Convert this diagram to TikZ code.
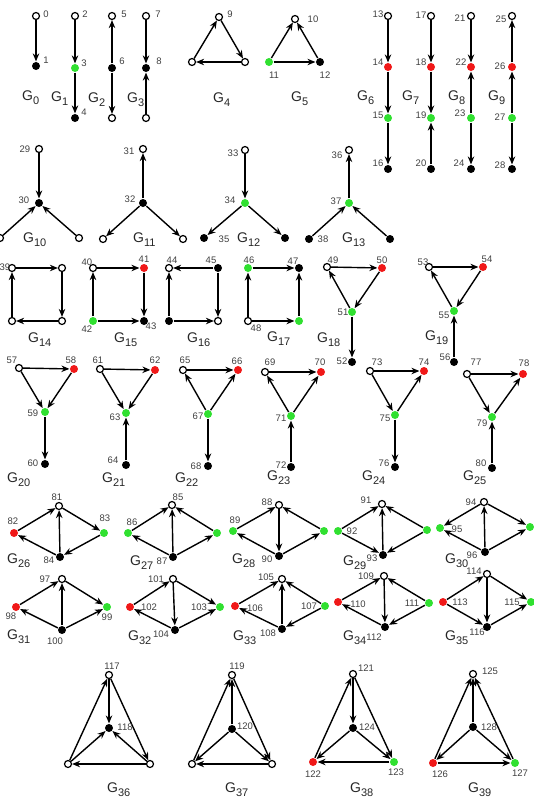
\documentclass[tikz,border=0pt]{standalone}
\usepackage{fontspec}
\setmainfont{Liberation Sans}
\usetikzlibrary{arrows.meta}
\definecolor{vred}{HTML}{F01818}
\definecolor{vgreen}{HTML}{30E030}
\tikzset{
  vtx/.style={circle, inner sep=0pt, line width=1.2pt},
  vo/.style={vtx, draw=black, fill=white, minimum size=7pt},
  vk/.style={vtx, fill=black, minimum size=8pt},
  vr/.style={vtx, fill=vred, minimum size=8pt},
  vg/.style={vtx, fill=vgreen, minimum size=8pt},
  lab/.style={inner sep=0pt, text=black!75, font=\fontsize{9.5}{9.5}\selectfont},
  glab/.style={inner sep=0pt, text=black!85, font=\fontsize{14}{14}\selectfont, anchor=base west},
  arr/.style={line width=1.4pt, -{Stealth[length=8pt,width=6.5pt]}}
}
\newcommand\myV[4]{\node[#2] (n#1) at (#3,#4) {};}
\newcommand\myL[3]{\node[lab] (t#1) at (#2,#3) {#1};}
\newcommand\myG[3]{\node[glab] (g#1) at ({#2-5},{#3+5}) {G\raisebox{-4.5pt}{\fontsize{11}{11}\selectfont #1}};}
\newcommand\myE[2]{\draw[arr] (n#1) -- (n#2);}
\begin{document}
\begin{tikzpicture}[x=1pt,y=-1pt]
\useasboundingbox (0,0) rectangle (534,800);
% G0
\myV{0}{vo}{36}{16}\myV{1}{vk}{36}{66}
\myE{0}{1}
\myL{0}{46}{14}\myL{1}{46}{60}\myG{0}{27}{95}
% G1
\myV{2}{vo}{75}{16}\myV{3}{vg}{75}{68}\myV{4}{vk}{75}{118}
\myE{2}{3}\myE{3}{4}
\myL{2}{85}{14}\myL{3}{84}{63}\myL{4}{84}{112}\myG{1}{56}{96}
% G2
\myV{5}{vo}{112}{16}\myV{6}{vk}{112}{68}\myV{2b}{vo}{112}{118}
\myE{6}{5}\myE{6}{2b}
\myL{5}{124}{14}\myL{6}{122}{61}\myG{2}{93}{97}
% G3
\myV{7}{vo}{146}{16}\myV{8}{vk}{146}{68}\myV{3b}{vo}{146}{118}
\myE{7}{8}\myE{3b}{8}
\myL{7}{158}{14}\myL{8}{159}{61}\myG{3}{132}{97}
% G4
\myV{9}{vo}{219}{17}\myV{4a}{vo}{192}{62}\myV{4b}{vo}{245}{62}
\myE{4a}{9}\myE{9}{4b}\myE{4b}{4a}
\myL{9}{230}{14}\myG{4}{218}{97}
% G5
\myV{10}{vo}{295}{19}\myV{11}{vg}{269}{62}\myV{12}{vk}{320}{62}
\myE{11}{10}\myE{12}{10}\myE{11}{12}
\myL{10}{313}{19}\myL{11}{274}{75}\myL{12}{325}{75}\myG{5}{296}{96}
% G6
\myV{13}{vo}{388}{16}\myV{14}{vr}{388}{67}\myV{15}{vg}{388}{118}\myV{16}{vk}{388}{169}
\myE{13}{14}\myE{14}{15}\myE{15}{16}
\myL{13}{378}{14}\myL{14}{378}{62}\myL{15}{378}{115}\myL{16}{378}{163}\myG{6}{362}{95}
% G7
\myV{17}{vo}{431}{16}\myV{18}{vr}{431}{67}\myV{19}{vg}{431}{118}\myV{20}{vk}{431}{169}
\myE{17}{18}\myE{18}{19}\myE{20}{19}
\myL{17}{421}{15}\myL{18}{421}{62}\myL{19}{421}{115}\myL{20}{421}{163}\myG{7}{407}{95}
% G8
\myV{21}{vo}{471}{16}\myV{22}{vr}{471}{67}\myV{23}{vg}{471}{118}\myV{24}{vk}{471}{169}
\myE{21}{22}\myE{23}{22}\myE{23}{24}
\myL{21}{460}{18}\myL{22}{461}{62}\myL{23}{460}{113}\myL{24}{459}{163}\myG{8}{453}{95}
% G9
\myV{25}{vo}{512}{16}\myV{26}{vr}{512}{67}\myV{27}{vg}{512}{118}\myV{28}{vk}{512}{169}
\myE{26}{25}\myE{27}{26}\myE{27}{28}
\myL{25}{501}{19}\myL{26}{500}{66}\myL{27}{500}{117}\myL{28}{500}{165}\myG{9}{493}{95}
% G10
\myV{29}{vo}{39}{149}\myV{30}{vk}{39}{203}\myV{10a}{vo}{0}{238}\myV{10b}{vo}{79}{238}
\myE{29}{30}\myE{10a}{30}\myE{10b}{30}
\myL{29}{25}{149}\myL{30}{24}{200}\myG{10}{28}{237}
% G11
\myV{31}{vo}{143}{149}\myV{32}{vk}{143}{203}\myV{11a}{vo}{103}{239}\myV{11b}{vo}{183}{239}
\myE{32}{31}\myE{32}{11a}\myE{32}{11b}
\myL{31}{129}{151}\myL{32}{130}{199}\myG{11}{138}{237}
% G12
\myV{33}{vo}{245}{150}\myV{34}{vg}{245}{203}\myV{35}{vk}{204}{238}\myV{12b}{vk}{285}{238}
\myE{33}{34}\myE{34}{35}\myE{34}{12b}
\myL{33}{233}{153}\myL{34}{230}{200}\myL{35}{224}{239}\myG{12}{242}{237}
% G13
\myV{36}{vo}{349}{150}\myV{37}{vg}{349}{203}\myV{38}{vk}{309}{239}\myV{13b}{vk}{390}{239}
\myE{37}{36}\myE{38}{37}\myE{13b}{37}
\myL{36}{337}{155}\myL{37}{336}{201}\myL{38}{323}{239}\myG{13}{347}{237}
% G14
\myV{39}{vo}{12}{268}\myV{14b}{vo}{62}{268}\myV{14c}{vo}{62}{321}\myV{14d}{vo}{12}{321}
\myE{14d}{39}\myE{39}{14b}\myE{14b}{14c}\myE{14c}{14d}
\myL{39}{5}{267}\myG{14}{33}{337}
% G15
\myV{40}{vo}{93}{268}\myV{41}{vr}{144}{268}\myV{43}{vk}{144}{321}\myV{42}{vg}{93}{321}
\myE{42}{40}\myE{40}{41}\myE{41}{43}\myE{42}{43}
\myL{40}{87}{262}\myL{41}{144}{259}\myL{42}{87}{329}\myL{43}{151}{326}\myG{15}{119}{337}
% G16
\myV{44}{vo}{169}{268}\myV{45}{vk}{218}{268}\myV{16c}{vo}{218}{321}\myV{16d}{vk}{169}{321}
\myE{45}{44}\myE{45}{16c}\myE{16d}{16c}\myE{16d}{44}
\myL{44}{172}{260}\myL{45}{211}{260}\myG{16}{192}{337}
% G17
\myV{46}{vg}{248}{268}\myV{47}{vk}{299}{268}\myV{17c}{vg}{299}{321}\myV{48}{vo}{248}{321}
\myE{48}{46}\myE{46}{47}\myE{17c}{47}\myE{48}{17c}
\myL{46}{249}{260}\myL{47}{293}{261}\myL{48}{256}{328}\myG{17}{272}{336}
% G18
\myV{49}{vo}{327}{267}\myV{50}{vr}{382}{268}\myV{51}{vg}{352}{312}\myV{52}{vk}{352}{362}
\myE{49}{50}\myE{50}{51}\myE{51}{49}\myE{51}{52}
\myL{49}{333}{260}\myL{50}{382}{260}\myL{51}{343}{312}\myL{52}{342}{361}\myG{18}{322}{337}
% G19
\myV{53}{vo}{429}{267}\myV{54}{vr}{483}{267}\myV{55}{vg}{454}{311}\myV{56}{vk}{454}{362}
\myE{53}{54}\myE{54}{55}\myE{55}{53}\myE{56}{55}
\myL{53}{423}{262}\myL{54}{487}{259}\myL{55}{444}{315}\myL{56}{445}{357}\myG{19}{430}{335}
% G20
\myV{57}{vo}{19}{368}\myV{58}{vr}{74}{369}\myV{59}{vg}{45}{412}\myV{60}{vk}{45}{464}
\myE{57}{58}\myE{57}{59}\myE{58}{59}\myE{59}{60}
\myL{57}{12}{360}\myL{58}{71}{360}\myL{59}{33}{413}\myL{60}{33}{463}\myG{20}{12}{477}
% G21
\myV{61}{vo}{100}{369}\myV{62}{vr}{155}{370}\myV{63}{vg}{126}{413}\myV{64}{vk}{126}{465}
\myE{61}{62}\myE{61}{63}\myE{62}{63}\myE{64}{63}
\myL{61}{98}{360}\myL{62}{155}{360}\myL{63}{115}{417}\myL{64}{113}{460}\myG{21}{107}{477}
% G22
\myV{65}{vo}{183}{370}\myV{66}{vr}{238}{370}\myV{67}{vg}{208}{414}\myV{68}{vk}{208}{466}
\myE{67}{65}\myE{67}{66}\myE{65}{66}\myE{67}{68}
\myL{65}{185}{360}\myL{66}{237}{361}\myL{67}{198}{416}\myL{68}{196}{466}\myG{22}{180}{477}
% G23
\myV{69}{vo}{265}{372}\myV{70}{vr}{321}{372}\myV{71}{vg}{291}{416}\myV{72}{vk}{291}{467}
\myE{69}{70}\myE{71}{69}\myE{71}{70}\myE{72}{71}
\myL{69}{270}{362}\myL{70}{320}{362}\myL{71}{281}{418}\myL{72}{281}{465}\myG{23}{272}{475}
% G24
\myV{73}{vo}{370}{371}\myV{74}{vr}{424}{371}\myV{75}{vg}{395}{415}\myV{76}{vk}{395}{467}
\myE{73}{74}\myE{73}{75}\myE{75}{74}\myE{75}{76}
\myL{73}{377}{362}\myL{74}{424}{362}\myL{75}{385}{418}\myL{76}{384}{463}\myG{24}{367}{475}
% G25
\myV{77}{vo}{467}{374}\myV{78}{vr}{523}{374}\myV{79}{vg}{492}{417}\myV{80}{vk}{492}{468}
\myE{77}{78}\myE{77}{79}\myE{79}{78}\myE{80}{79}
\myL{77}{476}{362}\myL{78}{524}{363}\myL{79}{482}{423}\myL{80}{481}{463}\myG{25}{468}{475}
% G26
\myV{81}{vo}{59}{506}\myV{82}{vr}{14}{533}\myV{83}{vg}{104}{533}\myV{84}{vk}{60}{557}
\myE{82}{81}\myE{81}{83}\myE{83}{84}\myE{84}{82}\myE{84}{81}
\myL{81}{57}{497}\myL{82}{13}{521}\myL{83}{105}{518}\myL{84}{49}{560}\myG{26}{12}{558}
% G27
\myV{85}{vo}{172}{505}\myV{86}{vg}{128}{533}\myV{27r}{vg}{217}{533}\myV{87}{vk}{173}{557}
\myE{86}{85}\myE{27r}{85}\myE{87}{86}\myE{87}{27r}\myE{87}{85}
\myL{85}{178}{497}\myL{86}{132}{522}\myL{87}{162}{561}\myG{27}{135}{560}
% G28
\myV{88}{vo}{279}{505}\myV{89}{vg}{233}{531}\myV{28r}{vg}{324}{531}\myV{90}{vk}{279}{556}
\myE{89}{88}\myE{28r}{88}\myE{88}{90}\myE{90}{89}\myE{90}{28r}
\myL{88}{267}{502}\myL{89}{235}{520}\myL{90}{267}{559}\myG{28}{237}{558}
% G29
\myV{91}{vo}{382}{504}\myV{92}{vg}{338}{531}\myV{29r}{vg}{427}{530}\myV{93}{vk}{383}{555}
\myE{92}{91}\myE{29r}{91}\myE{92}{93}\myE{29r}{93}\myE{93}{91}
\myL{91}{366}{500}\myL{92}{352}{531}\myL{93}{372}{558}\myG{29}{348}{560}
% G30
\myV{94}{vo}{484}{502}\myV{95}{vg}{440}{528}\myV{30r}{vg}{530}{527}\myV{96}{vk}{485}{552}
\myE{94}{95}\myE{94}{30r}\myE{96}{95}\myE{96}{30r}\myE{96}{94}
\myL{94}{471}{502}\myL{95}{457}{529}\myL{96}{472}{555}\myG{30}{450}{558}
% G31
\myV{97}{vo}{62}{579}\myV{98}{vr}{16}{607}\myV{99}{vg}{107}{607}\myV{100}{vk}{62}{630}
\myE{98}{97}\myE{97}{99}\myE{100}{98}\myE{100}{99}\myE{100}{97}
\myL{97}{45}{579}\myL{98}{11}{616}\myL{99}{107}{617}\myL{100}{55}{641}\myG{31}{12}{634}
% G32
\myV{101}{vo}{173}{579}\myV{102}{vr}{130}{607}\myV{103}{vg}{220}{607}\myV{104}{vk}{175}{630}
\myE{102}{101}\myE{101}{103}\myE{101}{104}\myE{104}{102}\myE{104}{103}
\myL{101}{156}{579}\myL{102}{149}{607}\myL{103}{199}{607}\myL{104}{161}{634}\myG{32}{133}{635}
% G33
\myV{105}{vo}{282}{579}\myV{106}{vr}{235}{606}\myV{107}{vg}{325}{606}\myV{108}{vk}{282}{629}
\myE{106}{105}\myE{107}{105}\myE{108}{105}\myE{108}{106}\myE{107}{108}
\myL{105}{266}{577}\myL{106}{255}{608}\myL{107}{309}{606}\myL{108}{268}{633}\myG{33}{238}{635}
% G34
\myV{109}{vo}{384}{576}\myV{110}{vr}{338}{602}\myV{111}{vg}{429}{603}\myV{112}{vk}{385}{627}
\myE{110}{109}\myE{111}{109}\myE{109}{112}\myE{112}{110}\myE{111}{112}
\myL{109}{366}{576}\myL{110}{358}{604}\myL{111}{412}{603}\myL{112}{374}{637}\myG{34}{348}{635}
% G35
\myV{114}{vo}{487}{574}\myV{113}{vr}{443}{602}\myV{115}{vg}{531}{602}\myV{116}{vk}{487}{627}
\myE{113}{114}\myE{114}{115}\myE{114}{116}\myE{113}{116}\myE{116}{115}
\myL{113}{460}{602}\myL{114}{474}{571}\myL{115}{512}{602}\myL{116}{477}{632}\myG{35}{450}{635}
% G36
\myV{117}{vo}{109}{675}\myV{118}{vk}{109}{728}\myV{36l}{vo}{68}{764}\myV{36r}{vo}{150}{764}
\myE{117}{118}\myE{36l}{117}\myE{117}{36r}\myE{36l}{118}\myE{36r}{118}\myE{36r}{36l}
\myL{117}{112}{666}\myL{118}{125}{727}\myG{36}{112}{787}
% G37
\myV{119}{vo}{232}{675}\myV{120}{vk}{232}{729}\myV{37l}{vo}{192}{764}\myV{37r}{vo}{272}{764}
\myE{120}{119}\myE{37l}{119}\myE{119}{37r}\myE{120}{37l}\myE{120}{37r}\myE{37r}{37l}
\myL{119}{237}{666}\myL{120}{245}{726}\myG{37}{230}{787}
% G38
\myV{121}{vo}{353}{674}\myV{124}{vk}{353}{728}\myV{122}{vr}{313}{762}\myV{123}{vg}{394}{762}
\myE{121}{124}\myE{122}{121}\myE{121}{123}\myE{124}{122}\myE{124}{123}\myE{123}{122}
\myL{121}{366}{668}\myL{124}{367}{727}\myL{122}{313}{774}\myL{123}{396}{772}\myG{38}{355}{787}
% G39
\myV{125}{vo}{473}{674}\myV{128}{vk}{473}{727}\myV{126}{vr}{433}{763}\myV{127}{vg}{515}{763}
\myE{128}{125}\myE{126}{125}\myE{127}{125}\myE{128}{126}\myE{128}{127}\myE{126}{127}
\myL{125}{490}{671}\myL{128}{489}{727}\myL{126}{440}{774}\myL{127}{520}{773}\myG{39}{473}{787}
\end{tikzpicture}
\end{document}
